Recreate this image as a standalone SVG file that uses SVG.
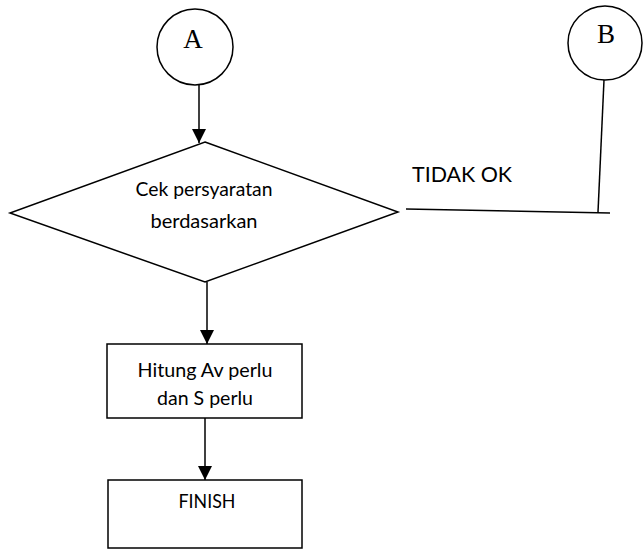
<svg xmlns="http://www.w3.org/2000/svg" width="644" height="550" viewBox="0 0 644 550">
  <defs>
    <marker id="arrow" viewBox="0 0 14 14" refX="14" refY="7" markerWidth="14" markerHeight="14" markerUnits="userSpaceOnUse" orient="auto">
      <path d="M0,0 L14,7 L0,14 Z" fill="#000"/>
    </marker>
    <style>
      .shape { fill: #fff; stroke: #000; stroke-width: 1.5; }
      .link { fill: none; stroke: #000; stroke-width: 1.5; }
      .serif { font-family: "Liberation Serif", "Times New Roman", serif; font-size: 27px; fill: #000; }
      .label { font-family: Lato, "Open Sans", sans-serif; font-size: 20px; fill: #000; }
      .big { font-family: Lato, "Open Sans", sans-serif; font-size: 22px; fill: #000; }
    </style>
  </defs>
  <rect width="644" height="550" fill="#fff"/>

  <g id="connectors">
    <line class="link" x1="199" y1="80" x2="199" y2="143" marker-end="url(#arrow)"/>
    <line class="link" x1="207" y1="282" x2="207" y2="344" marker-end="url(#arrow)"/>
    <line class="link" x1="205" y1="418" x2="205" y2="480" marker-end="url(#arrow)"/>
    <line class="link" x1="604" y1="80" x2="598" y2="212"/>
    <line class="link" x1="406" y1="209" x2="610" y2="213"/>
  </g>

  <g id="node-a">
    <circle class="shape" cx="195" cy="47" r="38"/>
    <text class="serif" x="193" y="48" text-anchor="middle">A</text>
  </g>

  <g id="node-b">
    <circle class="shape" cx="605" cy="43" r="37"/>
    <text class="serif" x="606" y="43" text-anchor="middle">B</text>
  </g>

  <g id="node-check">
    <polygon class="shape" points="205,142 398,212 205,282 10,213"/>
    <text class="label" x="204" y="196" text-anchor="middle" textLength="137" lengthAdjust="spacingAndGlyphs">Cek persyaratan</text>
    <text class="label" x="204" y="228" text-anchor="middle" textLength="107" lengthAdjust="spacingAndGlyphs">berdasarkan</text>
  </g>

  <g id="label-tidak-ok">
    <text class="big" x="412" y="182" textLength="100" lengthAdjust="spacingAndGlyphs">TIDAK OK</text>
  </g>

  <g id="node-hitung">
    <rect class="shape" x="107" y="344" width="195" height="74"/>
    <text class="label" x="205" y="377" text-anchor="middle" textLength="135" lengthAdjust="spacingAndGlyphs">Hitung Av perlu</text>
    <text class="label" x="205" y="405" text-anchor="middle" textLength="96" lengthAdjust="spacingAndGlyphs">dan S perlu</text>
  </g>

  <g id="node-finish">
    <rect class="shape" x="108" y="480" width="194" height="68"/>
    <text class="label" x="207" y="508" text-anchor="middle" textLength="57" lengthAdjust="spacingAndGlyphs">FINISH</text>
  </g>
</svg>
